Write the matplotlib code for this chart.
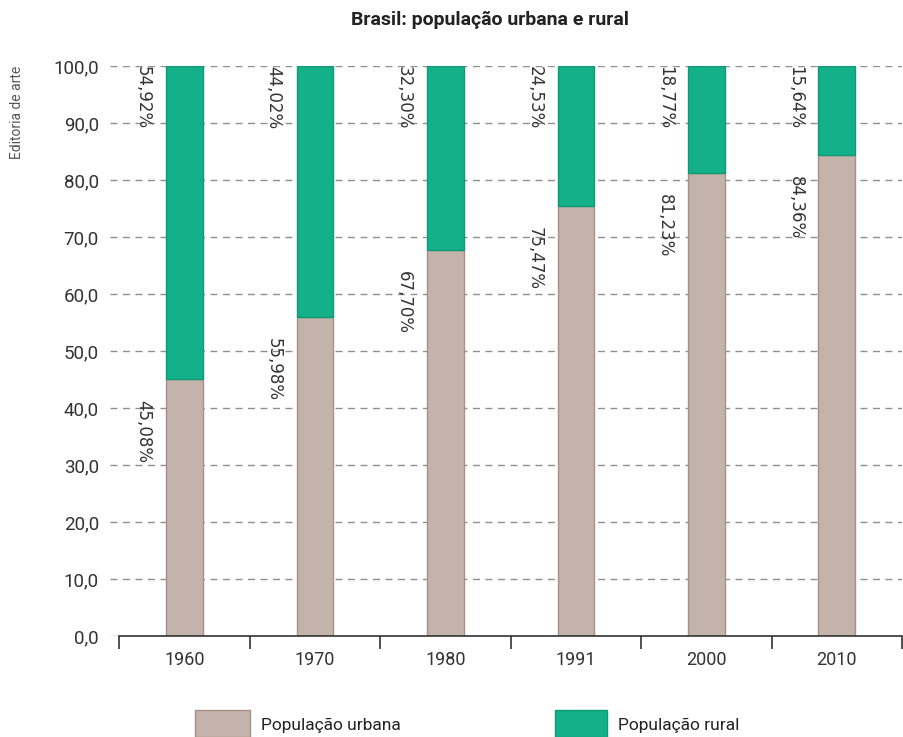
import matplotlib.pyplot as plt
from matplotlib.patches import Rectangle
from matplotlib.ticker import FuncFormatter

# Brasil: população urbana e rural (%), censos 1960-2010
anos = ["1960", "1970", "1980", "1991", "2000", "2010"]
urbana = [45.08, 55.98, 67.70, 75.47, 81.23, 84.36]
rural = [54.92, 44.02, 32.30, 24.53, 18.77, 15.64]
rotulos_urbana = ["45,08%", "55,98%", "67,70%", "75,47%", "81,23%", "84,36%"]
rotulos_rural = ["54,92%", "44,02%", "32,30%", "24,53%", "18,77%", "15,64%"]
yticks = [0, 10, 20, 30, 40, 50, 60, 70, 80, 90, 100]

COR_URBANA = "#c4b3aa"
BORDA_URBANA = "#a89087"
COR_RURAL = "#13b08a"
BORDA_RURAL = "#0f9a77"
FONTE = ["Roboto", "DejaVu Sans"]

W, H = 904, 737
fig = plt.figure(figsize=(W / 100, H / 100), dpi=100)
ax = fig.add_axes([110 / W, 1 - 636 / H, (902 - 110) / W, (636 - 66) / H])

x = list(range(len(anos)))
largura = 0.28
ax.bar(x, urbana, width=largura, color=COR_URBANA, edgecolor=BORDA_URBANA,
       linewidth=1, zorder=3)
ax.bar(x, rural, width=largura, bottom=urbana, color=COR_RURAL,
       edgecolor=BORDA_RURAL, linewidth=1, zorder=3)

# rótulos verticais à esquerda de cada barra
for i in x:
    esq = i - largura / 2
    ax.annotate(rotulos_rural[i], (esq, urbana[i] + rural[i]),
                xytext=(-10, 0), textcoords="offset points",
                rotation=-90, rotation_mode="anchor", ha="left", va="top",
                fontsize=12, color="#333333", family="DejaVu Sans", zorder=4)
    ax.annotate(rotulos_urbana[i], (esq, urbana[i]),
                xytext=(-10, -15), textcoords="offset points",
                rotation=-90, rotation_mode="anchor", ha="left", va="top",
                fontsize=12, color="#333333", family="DejaVu Sans", zorder=4)

ax.set_xlim(-0.57, 5.5)
ax.set_ylim(0, 100)

ax.set_yticks(yticks)
ax.yaxis.set_major_formatter(FuncFormatter(lambda v, p: f"{v:.1f}".replace(".", ",")))
ax.tick_params(axis="y", length=0, pad=8, labelsize=13.5, labelcolor="#333333")
for lab in ax.get_yticklabels():
    lab.set_family(FONTE)

ax.set_xticks(x)
ax.set_xticklabels(anos, family=FONTE, fontsize=13, color="#333333")
ax.set_xticks([i - 0.5 for i in range(len(anos) + 1)], minor=True)
ax.tick_params(axis="x", which="major", length=0, pad=11)
ax.tick_params(axis="x", which="minor", length=9, width=1.2, color="#333333",
               direction="out")

ax.grid(axis="y", linestyle=(0, (5, 4)), color="#8f8f8f", linewidth=1, zorder=0)
for lado in ("top", "right", "left"):
    ax.spines[lado].set_visible(False)
ax.spines["bottom"].set_bounds(-0.5, 5.5)
ax.spines["bottom"].set_color("#333333")
ax.spines["bottom"].set_linewidth(1.2)
ax.spines["bottom"].set_zorder(5)

fig.text(490 / W, 1 - 20 / H, "Brasil: população urbana e rural", ha="center",
         va="center", fontsize=14, fontweight="bold", family=FONTE, color="#222222")
fig.text(17 / W, 1 - 112 / H, "Editoria de arte", rotation=90, ha="center",
         va="center", fontsize=10, color="#555555", family=FONTE)

# legenda desenhada à mão, embaixo
for x0, x1, cor, borda, texto in [
        (195, 250, COR_URBANA, BORDA_URBANA, "População urbana"),
        (555, 607, COR_RURAL, BORDA_RURAL, "População rural")]:
    fig.patches.append(Rectangle((x0 / W, 0), (x1 - x0) / W, (737 - 710) / H,
                                 transform=fig.transFigure, facecolor=cor,
                                 edgecolor=borda, linewidth=1))
    fig.text((x1 + 11) / W, 1 - 725 / H, texto, ha="left", va="center",
             fontsize=12.5, family=FONTE, color="#222222")

fig.savefig("out.png", dpi=100)
